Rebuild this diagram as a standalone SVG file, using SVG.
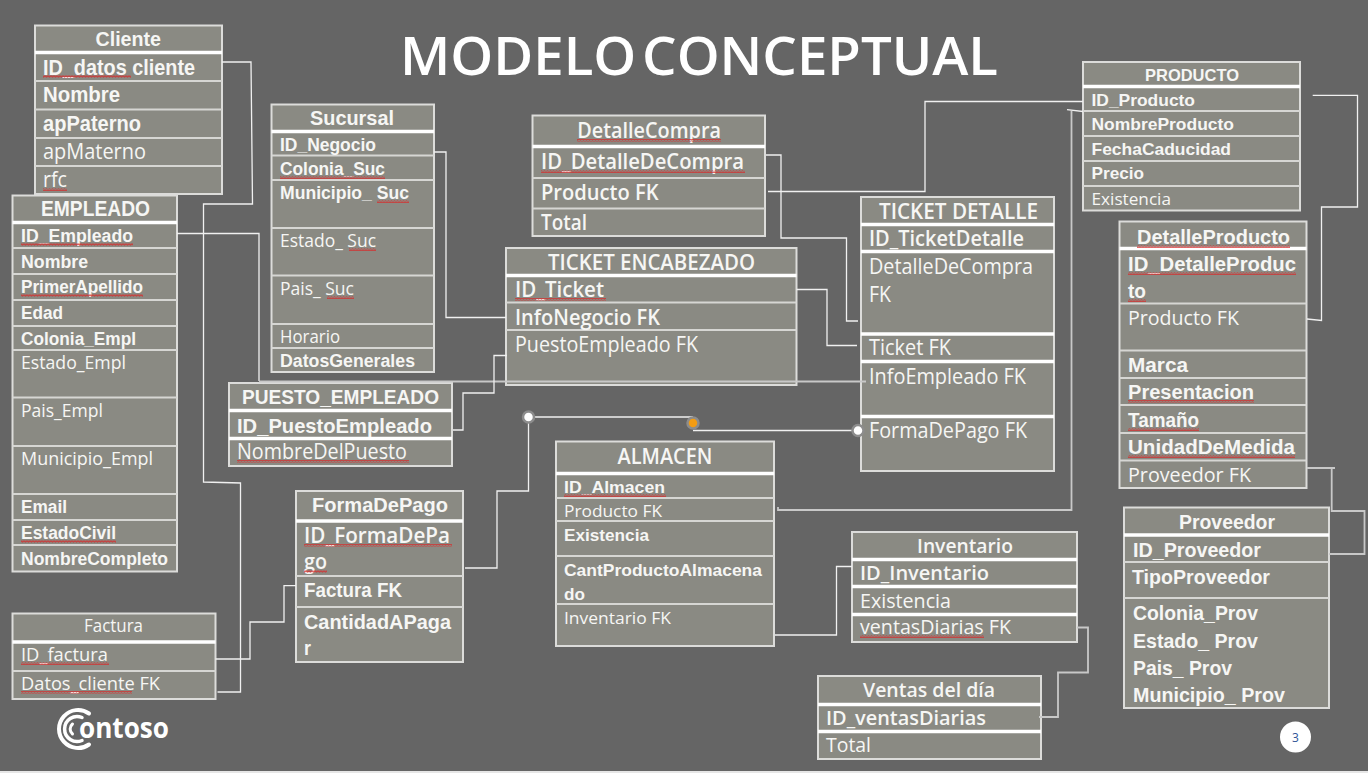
<svg xmlns="http://www.w3.org/2000/svg" width="1368" height="773" viewBox="0 0 1368 773">
<style>
.box{fill:#8a8a83;stroke:#dcdcda;stroke-width:2}
.d{fill:none;stroke:#d6d6d3;stroke-width:2}
.k{fill:none;stroke:#fff;stroke-width:3.5}
text{fill:#f6f6f4;font-family:"Open Sans","Noto Sans",sans-serif}
.b{font-family:"Liberation Sans",Arial,sans-serif;font-weight:700}
.s{font-family:"Open Sans","Noto Sans",sans-serif;font-weight:600}
.sq{fill:url(#wave)}
.c{fill:none;stroke:#f0f0f0;stroke-width:1.3}
.l{fill:none;stroke:#c8c8c8;stroke-width:1.8}
.p{fill:#fff;stroke:#8c8c8c;stroke-width:2.5}
</style>
<defs>
<pattern id="wave" width="3" height="3" patternUnits="userSpaceOnUse"><path d="M0 2.4L.75 .6L1.5 2.4L2.25 .6L3 2.4" fill="none" stroke="#d92a2a" stroke-width="0.7"/></pattern>
</defs>
<rect width="1368" height="773" fill="#656565"/>
<rect y="771" width="1368" height="2" fill="#e6e6e6"/>
<text id="title" x="400" y="75" font-size="52" font-weight="600" word-spacing="-8" textLength="598" lengthAdjust="spacingAndGlyphs" style="fill:#fff">MODELO CONCEPTUAL</text>

<g id="cliente" font-size="22">
<rect class="box" x="35" y="25.500" width="187" height="168.500"/>
<path class="k" d="M35 52.500H222"/><path class="d" d="M35 81H222M35 109.500H222M35 138H222M35 166H222"/>
<text class="b" x="95.500" y="46" font-size="21" textLength="65.500" lengthAdjust="spacingAndGlyphs">Cliente</text>
<text class="b" x="43" y="74.500" textLength="152" lengthAdjust="spacingAndGlyphs">ID_datos cliente</text>
<text class="b" x="43" y="102" textLength="77" lengthAdjust="spacingAndGlyphs">Nombre</text>
<text class="b" x="43" y="131" textLength="98" lengthAdjust="spacingAndGlyphs">apPaterno</text>
<text x="43" y="159" textLength="103" lengthAdjust="spacingAndGlyphs">apMaterno</text>
<text x="43" y="187" textLength="24" lengthAdjust="spacingAndGlyphs">rfc</text>
<rect class="sq" x="43" y="75" width="88" height="3"/><rect class="sq" x="43" y="188" width="24" height="3"/>
</g>

<g id="empleado" font-size="18">
<rect class="box" x="12.500" y="195.500" width="164.500" height="376"/>
<path class="k" d="M12.500 222.500H177"/><path class="d" d="M12.500 248H177M12.500 274H177M12.500 300H177M12.500 326H177M12.500 350H177M12.500 397.500H177M12.500 446H177M12.500 494H177M12.500 520H177M12.500 545H177"/>
<text class="b" x="41" y="216" font-size="22" textLength="109" lengthAdjust="spacingAndGlyphs">EMPLEADO</text>
<text class="b" x="21" y="242" textLength="112" lengthAdjust="spacingAndGlyphs">ID_Empleado</text>
<text class="b" x="21" y="268" textLength="67" lengthAdjust="spacingAndGlyphs">Nombre</text>
<text class="b" x="21" y="293" textLength="122" lengthAdjust="spacingAndGlyphs">PrimerApellido</text>
<text class="b" x="21" y="319" textLength="42" lengthAdjust="spacingAndGlyphs">Edad</text>
<text class="b" x="21" y="345" textLength="115" lengthAdjust="spacingAndGlyphs">Colonia_Empl</text>
<text x="21" y="369" textLength="105" lengthAdjust="spacingAndGlyphs">Estado_Empl</text>
<text x="21" y="417" textLength="82" lengthAdjust="spacingAndGlyphs">Pais_Empl</text>
<text x="21" y="465" textLength="132" lengthAdjust="spacingAndGlyphs">Municipio_Empl</text>
<text class="b" x="21" y="513" textLength="46" lengthAdjust="spacingAndGlyphs">Email</text>
<text class="b" x="21" y="539" textLength="95" lengthAdjust="spacingAndGlyphs">EstadoCivil</text>
<text class="b" x="21" y="565" textLength="147" lengthAdjust="spacingAndGlyphs">NombreCompleto</text>
<rect class="sq" x="21" y="243" width="112" height="3"/><rect class="sq" x="21" y="294" width="122" height="3"/><rect class="sq" x="21" y="540" width="95" height="3"/>
</g>

<g id="sucursal" font-size="18">
<rect class="box" x="271.500" y="104.500" width="162.500" height="267.500"/>
<path class="k" d="M271.500 131.500H434"/><path class="d" d="M271.500 155.500H434M271.500 180H434M271.500 228H434M271.500 275.500H434M271.500 324H434M271.500 348H434"/>
<text class="b" x="310" y="125" font-size="21" textLength="84" lengthAdjust="spacingAndGlyphs">Sucursal</text>
<text class="b" x="280" y="151" textLength="96" lengthAdjust="spacingAndGlyphs">ID_Negocio</text>
<text class="b" x="280" y="175" textLength="105" lengthAdjust="spacingAndGlyphs">Colonia_Suc</text>
<text class="b" x="280" y="199" textLength="129" lengthAdjust="spacingAndGlyphs">Municipio_ Suc</text>
<text x="280" y="247" textLength="96" lengthAdjust="spacingAndGlyphs">Estado_ Suc</text>
<text x="280" y="295" textLength="74" lengthAdjust="spacingAndGlyphs">Pais_ Suc</text>
<text x="280" y="343" textLength="60" lengthAdjust="spacingAndGlyphs">Horario</text>
<text class="b" x="280" y="367" textLength="135" lengthAdjust="spacingAndGlyphs">DatosGenerales</text>
<rect class="sq" x="280" y="176" width="105" height="3"/><rect class="sq" x="377" y="200" width="32" height="3"/><rect class="sq" x="349" y="248" width="27" height="3"/><rect class="sq" x="327" y="296" width="27" height="3"/>
</g>

<g id="puesto" font-size="21">
<rect class="box" x="229" y="383" width="223" height="83"/>
<path class="k" d="M229 410.500H452M229 438.500H452"/>
<text class="b" x="242" y="404" textLength="197" lengthAdjust="spacingAndGlyphs">PUESTO_EMPLEADO</text>
<text class="b" x="237" y="433" textLength="195" lengthAdjust="spacingAndGlyphs">ID_PuestoEmpleado</text>
<text x="237" y="459" textLength="170" lengthAdjust="spacingAndGlyphs">NombreDelPuesto</text>
<rect class="sq" x="237" y="460" width="172" height="3"/>
</g>

<g id="factura" font-size="18">
<rect class="box" x="12.500" y="613.500" width="203" height="85.500"/>
<path class="k" d="M12.500 642H215.500"/><path class="d" d="M12.500 671H215.500"/>
<text x="84" y="632" textLength="59" lengthAdjust="spacingAndGlyphs">Factura</text>
<text x="21" y="661" textLength="87" lengthAdjust="spacingAndGlyphs">ID_factura</text>
<text x="21" y="690" textLength="139" lengthAdjust="spacingAndGlyphs">Datos_cliente  FK</text>
<rect class="sq" x="21" y="662" width="88" height="3"/><rect class="sq" x="21" y="691" width="111" height="3"/>
</g>

<g id="formadepago" font-size="21">
<rect class="box" x="296" y="491" width="167" height="171"/>
<path class="k" d="M296 521H463"/><path class="d" d="M296 576H463M296 607H463"/>
<text class="b" x="312" y="512" textLength="136" lengthAdjust="spacingAndGlyphs">FormaDePago</text>
<text class="s" x="304" y="543" textLength="146" lengthAdjust="spacingAndGlyphs">ID_FormaDePa</text>
<text class="s" x="304" y="569" textLength="23" lengthAdjust="spacingAndGlyphs">go</text>
<text class="b" x="304" y="597" textLength="98" lengthAdjust="spacingAndGlyphs">Factura FK</text>
<text class="b" x="304" y="629" textLength="147" lengthAdjust="spacingAndGlyphs">CantidadAPaga</text>
<text class="b" x="304" y="655" textLength="7" lengthAdjust="spacingAndGlyphs">r</text>
<rect class="sq" x="304" y="544" width="148" height="3"/><rect class="sq" x="304" y="570" width="23" height="3"/>
</g>

<g id="detallecompra" font-size="22">
<rect class="box" x="532.500" y="115.500" width="232.500" height="120.500"/>
<path class="k" d="M532.500 146.500H765"/><path class="d" d="M532.500 178H765M532.500 208.500H765"/>
<text class="s" x="577.300" y="138" font-size="21" textLength="143.700" lengthAdjust="spacingAndGlyphs">DetalleCompra</text>
<text class="s" x="541" y="169" textLength="203" lengthAdjust="spacingAndGlyphs">ID_DetalleDeCompra</text>
<text class="s" x="541" y="200" textLength="117.500" lengthAdjust="spacingAndGlyphs">Producto FK</text>
<text class="s" x="541" y="230" textLength="46" lengthAdjust="spacingAndGlyphs">Total</text>
<rect class="sq" x="577" y="139" width="144" height="3"/><rect class="sq" x="541" y="170" width="204" height="3"/>
</g>

<g id="ticket-encabezado" font-size="22">
<rect class="box" x="506" y="248" width="290.500" height="137"/>
<path class="k" d="M506 275.500H796.500"/><path class="d" d="M506 302.500H796.500M506 330H796.500"/>
<text class="s" x="548" y="270" textLength="207" lengthAdjust="spacingAndGlyphs">TICKET ENCABEZADO</text>
<text class="s" x="515" y="297" textLength="89" lengthAdjust="spacingAndGlyphs">ID_Ticket</text>
<text class="s" x="515" y="325" textLength="145" lengthAdjust="spacingAndGlyphs">InfoNegocio FK</text>
<text x="515" y="352" font-size="21" textLength="183" lengthAdjust="spacingAndGlyphs">PuestoEmpleado FK</text>
<rect class="sq" x="515" y="298" width="91" height="3"/>
</g>

<g id="ticket-detalle" font-size="22">
<rect class="box" x="861" y="197" width="193" height="274"/>
<path class="k" d="M861 224.500H1054M861 251.500H1054M861 334H1054M861 361.500H1054M861 416.500H1054"/>
<text class="s" x="879" y="219" textLength="159" lengthAdjust="spacingAndGlyphs">TICKET DETALLE</text>
<text class="s" x="869" y="246" textLength="155" lengthAdjust="spacingAndGlyphs">ID_TicketDetalle</text>
<text x="869" y="274" font-size="21" textLength="164" lengthAdjust="spacingAndGlyphs">DetalleDeCompra</text>
<text x="869" y="302" font-size="21" textLength="22" lengthAdjust="spacingAndGlyphs">FK</text>
<text x="869" y="355" font-size="21" textLength="82" lengthAdjust="spacingAndGlyphs">Ticket FK</text>
<text x="869" y="384" font-size="21" textLength="157" lengthAdjust="spacingAndGlyphs">InfoEmpleado FK</text>
<text x="869" y="438" font-size="21" textLength="158" lengthAdjust="spacingAndGlyphs">FormaDePago FK</text>
</g>

<g id="almacen" font-size="17">
<rect class="box" x="556" y="441.500" width="218" height="204.500"/>
<path class="k" d="M556 473.500H774"/><path class="d" d="M556 498H774M556 521H774M556 556H774M556 604H774"/>
<text class="s" x="617.500" y="464" font-size="22" textLength="95" lengthAdjust="spacingAndGlyphs">ALMACEN</text>
<text class="b" x="564" y="493" textLength="101" lengthAdjust="spacingAndGlyphs">ID_Almacen</text>
<text x="564" y="517" textLength="98" lengthAdjust="spacingAndGlyphs">Producto FK</text>
<text class="b" x="564" y="541" textLength="85" lengthAdjust="spacingAndGlyphs">Existencia</text>
<text class="b" x="564" y="576" textLength="198" lengthAdjust="spacingAndGlyphs">CantProductoAlmacena</text>
<text class="b" x="564" y="600" textLength="21" lengthAdjust="spacingAndGlyphs">do</text>
<text x="564" y="624" textLength="107" lengthAdjust="spacingAndGlyphs">Inventario FK</text>
<rect class="sq" x="564" y="494" width="102" height="3"/>
</g>

<g id="inventario" font-size="20">
<rect class="box" x="852" y="532" width="225" height="110"/>
<path class="k" d="M852 559.500H1077M852 586.500H1077M852 614.500H1077"/>
<text class="s" x="917" y="553" textLength="96" lengthAdjust="spacingAndGlyphs">Inventario</text>
<text class="s" x="860" y="580" textLength="129" lengthAdjust="spacingAndGlyphs">ID_Inventario</text>
<text x="860" y="608" textLength="91" lengthAdjust="spacingAndGlyphs">Existencia</text>
<text x="860" y="634" textLength="151" lengthAdjust="spacingAndGlyphs">ventasDiarias FK</text>
<rect class="sq" x="860" y="635" width="124" height="3"/>
</g>

<g id="ventas" font-size="20">
<rect class="box" x="818" y="676" width="223" height="83"/>
<path class="k" d="M818 704.500H1041M818 731.500H1041"/>
<text class="s" x="863" y="697" textLength="132" lengthAdjust="spacingAndGlyphs">Ventas del día</text>
<text class="s" x="826" y="725" textLength="160" lengthAdjust="spacingAndGlyphs">ID_ventasDiarias</text>
<text x="826" y="752" textLength="45" lengthAdjust="spacingAndGlyphs">Total</text>
</g>

<g id="producto" font-size="17">
<rect class="box" x="1083" y="62" width="217" height="148.500"/>
<path class="k" d="M1083 86.500H1300"/><path class="d" d="M1083 111H1300M1083 136H1300M1083 161H1300M1083 186H1300"/>
<text class="b" x="1145" y="81" textLength="94" lengthAdjust="spacingAndGlyphs">PRODUCTO</text>
<text class="b" x="1091.500" y="106" textLength="103.500" lengthAdjust="spacingAndGlyphs">ID_Producto</text>
<text class="b" x="1091.500" y="130" textLength="142.500" lengthAdjust="spacingAndGlyphs">NombreProducto</text>
<text class="b" x="1091.500" y="155" textLength="139.500" lengthAdjust="spacingAndGlyphs">FechaCaducidad</text>
<text class="b" x="1091.500" y="179" textLength="52.500" lengthAdjust="spacingAndGlyphs">Precio</text>
<text x="1091.500" y="205" textLength="79.500" lengthAdjust="spacingAndGlyphs">Existencia</text>
</g>

<g id="detalleproducto" font-size="20">
<rect class="box" x="1119.500" y="221.500" width="187" height="266.500"/>
<path class="k" d="M1119.500 248.500H1306.500"/><path class="d" d="M1119.500 303.500H1306.500M1119.500 350.500H1306.500M1119.500 378H1306.500M1119.500 405H1306.500M1119.500 433H1306.500M1119.500 460.500H1306.500"/>
<text class="b" x="1137" y="244" textLength="153" lengthAdjust="spacingAndGlyphs">DetalleProducto</text>
<text class="b" x="1128" y="271" textLength="168" lengthAdjust="spacingAndGlyphs">ID_DetalleProduc</text>
<text class="b" x="1128" y="298" textLength="18" lengthAdjust="spacingAndGlyphs">to</text>
<text x="1128" y="325" textLength="111" lengthAdjust="spacingAndGlyphs">Producto FK</text>
<text class="b" x="1128" y="372" textLength="60" lengthAdjust="spacingAndGlyphs">Marca</text>
<text class="b" x="1128" y="399" textLength="126" lengthAdjust="spacingAndGlyphs">Presentacion</text>
<text class="b" x="1128" y="427" textLength="71" lengthAdjust="spacingAndGlyphs">Tamaño</text>
<text class="b" x="1128" y="454" textLength="167" lengthAdjust="spacingAndGlyphs">UnidadDeMedida</text>
<text x="1128" y="482" textLength="123" lengthAdjust="spacingAndGlyphs">Proveedor FK</text>
<rect class="sq" x="1137" y="245" width="153" height="3"/><rect class="sq" x="1128" y="272" width="168" height="3"/><rect class="sq" x="1128" y="299" width="18" height="3"/><rect class="sq" x="1128" y="400" width="126" height="3"/><rect class="sq" x="1128" y="428" width="71" height="3"/><rect class="sq" x="1128" y="455" width="167" height="3"/>
</g>

<g id="proveedor" font-size="21">
<rect class="box" x="1124" y="507.500" width="205" height="200.500"/>
<path class="k" d="M1124 535H1329"/><path class="d" d="M1124 562H1329M1124 598H1329"/>
<text class="b" x="1179" y="529" textLength="96" lengthAdjust="spacingAndGlyphs">Proveedor</text>
<text class="b" x="1133" y="557" textLength="128" lengthAdjust="spacingAndGlyphs">ID_Proveedor</text>
<text class="b" x="1132" y="584" textLength="138" lengthAdjust="spacingAndGlyphs">TipoProveedor</text>
<text class="b" x="1133" y="620" textLength="125" lengthAdjust="spacingAndGlyphs">Colonia_Prov</text>
<text class="b" x="1133" y="648" textLength="125" lengthAdjust="spacingAndGlyphs">Estado_ Prov</text>
<text class="b" x="1133" y="675" textLength="99" lengthAdjust="spacingAndGlyphs">Pais_ Prov</text>
<text class="b" x="1133" y="702" textLength="152" lengthAdjust="spacingAndGlyphs">Municipio_ Prov</text>
</g>

<g id="connectors">
<path class="c" d="M222 62H251L252.500 204H203.500V482L240.500 483V692H217.500"/>
<path class="c" d="M177 233.500H259V381"/>
<path class="l" d="M259 381.500H866"/>
<path class="c" d="M434 152H446V317.500H506"/>
<path class="c" d="M453 430H463V393H494V355.500H507"/>
<path class="c" d="M766 155H781V238H846.500V321H858"/>
<path class="c" d="M768 191.500H925V101.500H1083"/>
<path class="c" d="M796.500 289.500H827V345.500H857"/>
<path class="c" d="M465 568H497V491H528.500V417H693"/>
<path class="c" d="M693 430.500H858"/>
<path class="c" d="M215.500 659H250V622H284V585.700H296"/>
<path class="c" d="M1312.700 95.300H1357.500V207H1321.500V320.500L1307 319"/>
<path class="l" d="M778 507V510H1071.500V111"/>
<path class="c" d="M1067 109.700L1083 111.500"/>
<path class="l" d="M1307 468H1335M1331.700 468V511H1364.500V554H1329"/>
<path class="c" d="M775 635H836.500V566.500H852"/>
<path class="l" d="M1077 627.500H1088V672.500H1058V717H1039"/>
<circle class="p" cx="528.500" cy="417" r="5.500"/>
<circle class="p" cx="858" cy="430.500" r="5.500"/>
<circle class="p" cx="693" cy="423" r="5.500" style="fill:#f39c12"/>
</g>

<g id="logo">
<g fill="none" stroke="#fff" stroke-linecap="round">
<path d="M89 713.500A19 19 0 1 0 89 744.500" stroke-width="4"/>
<path d="M82 717.500A12.500 12.500 0 1 0 82 740.500" stroke-width="3.500"/>
<path d="M72.500 724A6.500 6.500 0 0 0 72.500 734" stroke-width="3"/>
</g>
<text x="79" y="737.500" font-size="29" font-weight="700" textLength="90" lengthAdjust="spacingAndGlyphs" style="fill:#fff">ontoso</text>
</g>
<g id="page">
<circle cx="1295.500" cy="737" r="15.500" fill="#fff"/>
<text x="1295.500" y="741.500" font-size="12" text-anchor="middle" style="fill:#2f5597">3</text>
</g>
</svg>
